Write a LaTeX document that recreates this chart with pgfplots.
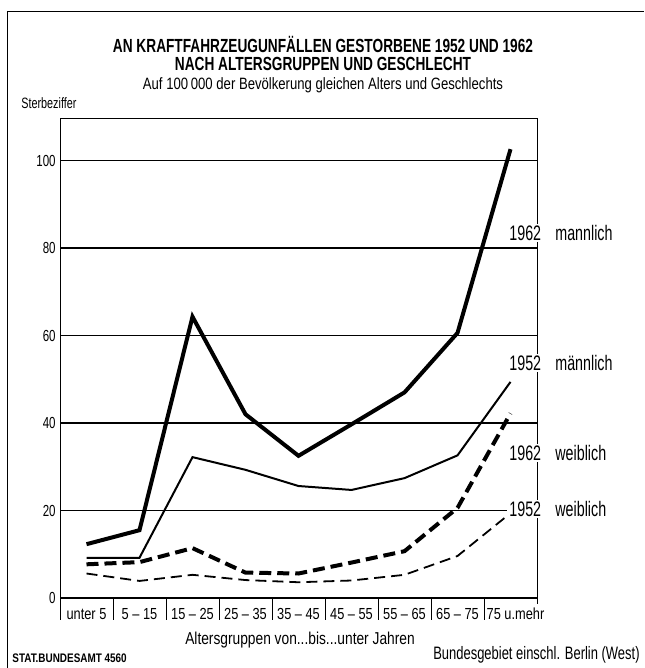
\documentclass[border=0pt]{standalone}
\usepackage{fontspec}
\setmainfont[FakeStretch=0.8]{Liberation Sans}
\newfontfamily\fA[FakeStretch=0.72]{Liberation Sans}
\newfontfamily\fB[FakeStretch=0.8]{Liberation Sans}
\newfontfamily\fT[FakeStretch=0.72]{Liberation Sans}
\newfontfamily\fS[FakeStretch=0.68]{Liberation Sans}
\usepackage{pgfplots}
\pgfplotsset{compat=1.18}

\pgfplotstableread{
x m62 m52 w62 w52
0 12.3 9.2 7.7 5.6
1 15.5 9.2 8.2 3.9
2 64.3 32.2 11.4 5.3
3 42.0 29.3 5.8 4.1
4 32.5 25.6 5.6 3.6
5 39.7 24.7 8.1 4.0
6 47.0 27.4 10.7 5.3
7 60.6 32.6 20.6 9.6
8 102.6 49.4 42.2 19.4
}\datatable

\begin{document}
\begin{tikzpicture}[x=1pt,y=1pt]
\begin{axis}[
  at={(0,0)}, anchor=south west,
  scale only axis, width=238.5pt, height=239.5pt,
  xmin=-0.5, xmax=8.5, ymin=0, ymax=109.5,
  clip=false,
  axis line style={line width=0.5pt},
  ytick={0,20,40,60,80,100},
  ymajorgrids, grid style={black, line width=0.6pt},
  major tick length=0pt,
  /pgf/number format/assume math mode=true,
  yticklabel style={font=\fA\fontsize{8}{9}\selectfont, inner sep=2pt},
  xtick={0,...,8},
  xticklabels={unter 5, 5 – 15, 15 – 25, 25 – 35, 35 – 45, 45 – 55, 55 – 65, 65 – 75, \hspace*{5pt}75 u.mehr},
  xticklabel style={font=\fB\fontsize{8}{9}\selectfont, inner sep=0pt, yshift=-4.8pt},
  tick style={draw=none},
]
\addplot[black, line width=2pt, line join=miter] table[x=x,y=m62] {\datatable};
\addplot[black, line width=1pt] table[x=x,y=m52] {\datatable};
\addplot[black, line width=2pt, dash pattern=on 6pt off 3pt] table[x=x,y=w62] {\datatable};
\addplot[black, line width=0.9pt, dash pattern=on 5.5pt off 3pt] table[x=x,y=w52] {\datatable};
\draw[line width=1.4pt] (axis cs:-0.5,0) -- (axis cs:8.5,0);
\end{axis}

% category separators
\foreach \i in {0,26.5,53,79.5,106,132.5,159,185.5,212}{
  \draw[line width=0.5pt] (\i,0) -- (\i,-11);
}
\draw[line width=0.5pt] (238.5,0) -- (238.5,-3);

% series labels
\begin{scope}[every node/.style={font=\fS\fontsize{10.5}{12}\selectfont, inner sep=1pt}]
\node[anchor=west, fill=white] at (223.5,182.5) {1962};
\node[anchor=west] at (246.5,182.5) {mannlich};
\node[anchor=west, fill=white] at (223.5,117.5) {1952};
\node[anchor=west] at (246.5,117.5) {männlich};
\node[anchor=west, fill=white] at (223.5,72.5) {1962};
\node[anchor=west] at (246.5,72.5) {weiblich};
\node[anchor=west, fill=white] at (223.5,44.5) {1952};
\node[anchor=west] at (246.5,44.5) {weiblich};
\end{scope}

% titles
\node[font=\fT\bfseries\fontsize{9.5}{11}\selectfont] at (131.5,277) {AN KRAFTFAHRZEUGUNFÄLLEN GESTORBENE 1952 UND 1962};
\node[font=\fT\bfseries\fontsize{9.5}{11}\selectfont] at (131.5,267) {NACH ALTERSGRUPPEN UND GESCHLECHT};
\node[font=\fontsize{8.2}{9}\selectfont] at (131.5,256.5) {Auf 100\,000 der Bevölkerung gleichen Alters und Geschlechts};
\node[font=\fA\fontsize{7.5}{8}\selectfont, anchor=west, inner sep=0pt] at (-19.5,247.5) {Sterbeziffer};
\node[font=\fontsize{8.6}{10}\selectfont] at (120,-21) {Altersgruppen von...bis...unter Jahren};
\node[font=\bfseries\fontsize{6.2}{7}\selectfont, anchor=west, inner sep=0pt] at (-24,-30) {STAT.BUNDESAMT 4560};
\node[font=\fA\fontsize{9}{10}\selectfont, anchor=east, inner sep=0pt] at (290,-28.5) {Bundesgebiet einschl. Berlin (West)};

% frame
\draw[line width=0.6pt] (-26.3,-35) -- (-26.3,293.3) -- (292,293.3);

\pgfresetboundingbox
\useasboundingbox (-30,-35) rectangle (292,299);
\end{tikzpicture}
\end{document}
